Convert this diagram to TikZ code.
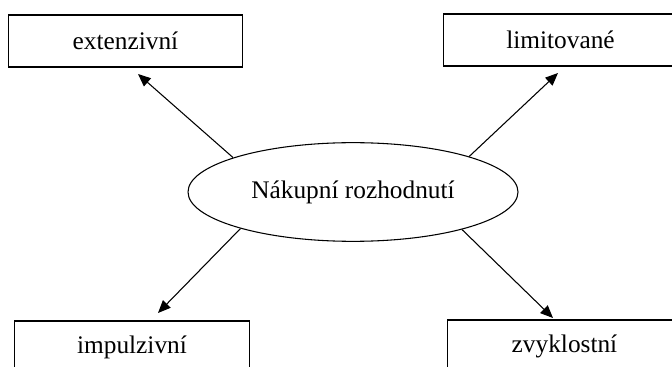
\documentclass[tikz,border=0pt]{standalone}
\usepackage{fontspec}
\setmainfont{Liberation Serif}
\usetikzlibrary{arrows.meta, shapes.geometric}

\begin{document}
\begin{tikzpicture}[x=0.75pt, y=-0.75pt,
    typebox/.style={draw, line width=0.8pt, minimum width=176pt, minimum height=39pt,
        inner sep=0pt, font=\fontsize{19}{23}\selectfont},
    decision/.style={draw, ellipse, line width=0.8pt, minimum width=247.5pt,
        minimum height=74pt, inner sep=0pt, font=\fontsize{19}{23}\selectfont},
    link/.style={-{Triangle[length=9.5pt, width=8pt]}, line width=0.8pt}]
    \useasboundingbox (0,0) rectangle (672,367);
    \clip (0,0) rectangle (672,367);
    % Central ellipse
    \node[decision] (buy) at (353,192) {Nákupní rozhodnutí};
    % Four kinds of decision
    \node[typebox] (ext) at (125.5,41) {extenzivní};
    \node[typebox] (lim) at (560.5,40) {limitované};
    \node[typebox] (imp) at (132,347) {impulzivní};
    \node[typebox] (zvy) at (564.5,346) {zvyklostní};
    % Arrow ends, short of the boxes
    \coordinate (extTip) at (138,74);
    \coordinate (limTip) at (558,73);
    \coordinate (impTip) at (158,313);
    \coordinate (zvyTip) at (553,318);
    % Arrows
    \draw[link] (buy.164) -- (extTip);
    \draw[link] (buy.17) -- (limTip);
    \draw[link] (buy.198) -- (impTip);
    \draw[link] (buy.341) -- (zvyTip);
\end{tikzpicture}
\end{document}
